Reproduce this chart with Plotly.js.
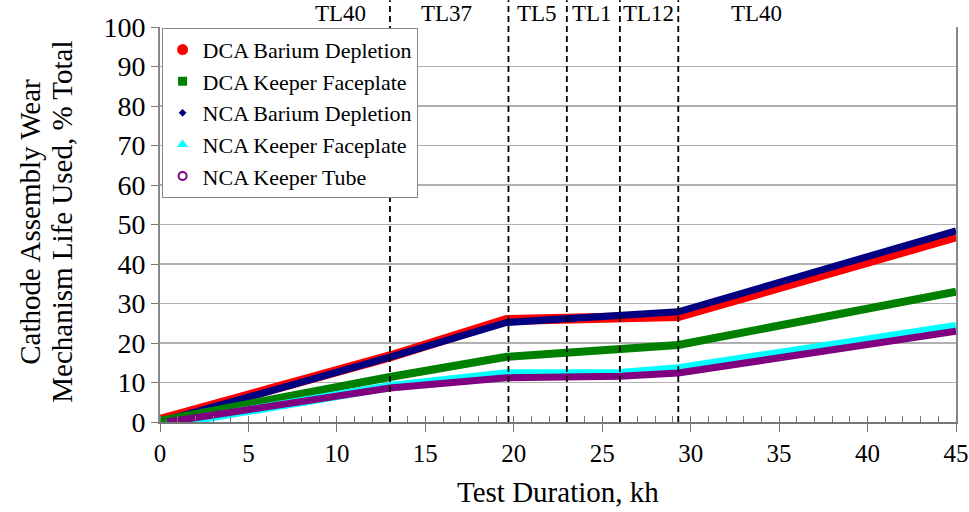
<!DOCTYPE html>
<html>
<head>
<meta charset="utf-8">
<script src="https://cdn.plot.ly/plotly-3.0.1.min.js"></script>
<style>html,body{margin:0;padding:0;background:#fff;}#chart{width:969px;height:512px;}</style>
</head>
<body>
<div id="chart"></div>
<script>
// ---- data (kh, % of life used) ----
const hours = [0, 13, 19.6, 23, 26, 29.3, 45];
const hoursNcaKeeper = [0.4, 13, 19.6, 23, 26, 29.3, 45];
const dcaBarium = [0.5, 16.6, 25.8, 26.2, 26.5, 26.8, 47.0];
const dcaKeeperFace = [0.3, 11.4, 16.5, 17.4, 18.6, 19.5, 33.0];
const ncaBarium = [0.0, 16.4, 25.2, 26.3, 26.9, 27.9, 48.4];
const ncaKeeperFace = [-0.6, 9.0, 12.2, 12.1, 12.3, 13.5, 24.2];
const ncaKeeperTube = [0.0, 8.6, 11.2, 11.4, 11.6, 12.4, 23.0];
const seriesNames = ['DCA Barium Depletion', 'DCA Keeper Faceplate', 'NCA Barium Depletion', 'NCA Keeper Faceplate', 'NCA Keeper Tube'];
const testBoundaries = [13, 19.7, 23, 26, 29.3];
const testLabels = ['TL40', 'TL37', 'TL5', 'TL1', 'TL12', 'TL40'];
const testLabelX = [10.2, 16.2, 21.3, 24.4, 27.6, 33.7];
const xTicks = [0, 5, 10, 15, 20, 25, 30, 35, 40, 45];
const yTicks = [0, 10, 20, 30, 40, 50, 60, 70, 80, 90, 100];
const xTitle = 'Test Duration, kh';
const yTitleLines = ['Cathode Assembly Wear', 'Mechanism Life Used, % Total'];

const FONT = 'Liberation Serif, Times New Roman, serif';
const colors = ['#ff0000', '#008000', '#000080', '#00ffff', '#800080'];

function lineTrace(x, y, color, width) {
  return {x: x, y: y, mode: 'lines', type: 'scatter', showlegend: false, hoverinfo: 'skip',
    line: {color: color, width: width, shape: 'linear'}};
}
function legendTrace(name, marker) {
  return {x: [null], y: [null], mode: 'markers', type: 'scatter', name: name, marker: marker};
}

const traces = [
  lineTrace(hours, dcaBarium, colors[0], 10),
  lineTrace(hours, ncaBarium, colors[2], 7),
  lineTrace(hours, dcaKeeperFace, colors[1], 8),
  lineTrace(hoursNcaKeeper, ncaKeeperFace, colors[3], 9),
  lineTrace(hoursNcaKeeper, ncaKeeperTube, colors[4], 7),
  legendTrace(seriesNames[0], {symbol: 'circle', size: 11, color: colors[0]}),
  legendTrace(seriesNames[1], {symbol: 'square', size: 9, color: colors[1]}),
  legendTrace(seriesNames[2], {symbol: 'diamond', size: 6, color: colors[2]}),
  legendTrace(seriesNames[3], {symbol: 'triangle-up', size: 10, color: colors[3]}),
  legendTrace(seriesNames[4], {symbol: 'circle-open', size: 8, color: colors[4], line: {width: 2, color: colors[4]}})
];

const shapes = testBoundaries.map(b => ({
  type: 'line', xref: 'x', yref: 'paper', x0: b, x1: b, y0: 0, y1: 1.068,
  line: {color: '#000', width: 1.8, dash: '6px,4px'}, layer: 'above'
}));
const annotations = testLabels.map((t, i) => ({
  text: t, x: testLabelX[i], xref: 'x', y: 1.035, yref: 'paper', yanchor: 'middle', xanchor: 'center',
  showarrow: false, font: {family: FONT, size: 23, color: '#000'}
}));
annotations.push({text: xTitle, xref: 'paper', x: 0.5, yref: 'paper', y: -0.177, xanchor: 'center', yanchor: 'middle',
  showarrow: false, font: {family: FONT, size: 29, color: '#000'}});
yTitleLines.forEach((t, i) => annotations.push({text: t, textangle: -90, xref: 'paper', x: 0, xshift: [-130, -98][i],
  yref: 'paper', y: 0.507, xanchor: 'center', yanchor: 'middle', showarrow: false,
  font: {family: FONT, size: 29, color: '#000'}}));

const layout = {
  width: 969, height: 512,
  margin: {l: 160, r: 13, t: 27, b: 90},
  paper_bgcolor: '#fff', plot_bgcolor: '#fff',
  font: {family: FONT, color: '#000'},
  showlegend: true,
  legend: {x: 0.002, y: 0.998, xanchor: 'left', yanchor: 'top', bgcolor: '#fff',
    bordercolor: '#888', borderwidth: 1, font: {family: FONT, size: 22, color: '#000'},
    tracegroupgap: 0, itemwidth: 30},
  xaxis: {range: [0, 45], tickmode: 'linear', tick0: xTicks[0], dtick: xTicks[1] - xTicks[0], showgrid: false, zeroline: false,
    showline: true, linecolor: '#777', linewidth: 2, ticks: 'outside', ticklen: 8, tickcolor: '#777', tickwidth: 1,
    ticklabeloverflow: 'allow',
    minor: {tickmode: 'linear', tick0: 0, dtick: 1, ticks: 'inside', ticklen: 6, tickcolor: '#777', tickwidth: 1, showgrid: false},
    tickfont: {family: FONT, size: 25, color: '#000'}},
  yaxis: {range: [0, 100], tickvals: yTicks, ticktext: yTicks.map(String), showgrid: true, gridcolor: '#b0b0b0', gridwidth: 1.5,
    zeroline: false, showline: true, mirror: true, linecolor: '#888', linewidth: 2, ticks: 'outside', ticklen: 7,
    tickcolor: '#777', tickfont: {family: FONT, size: 28, color: '#000'}},
  shapes: shapes,
  annotations: annotations
};

Plotly.newPlot('chart', traces, layout, {displayModeBar: false, staticPlot: true});
</script>
</body>
</html>
